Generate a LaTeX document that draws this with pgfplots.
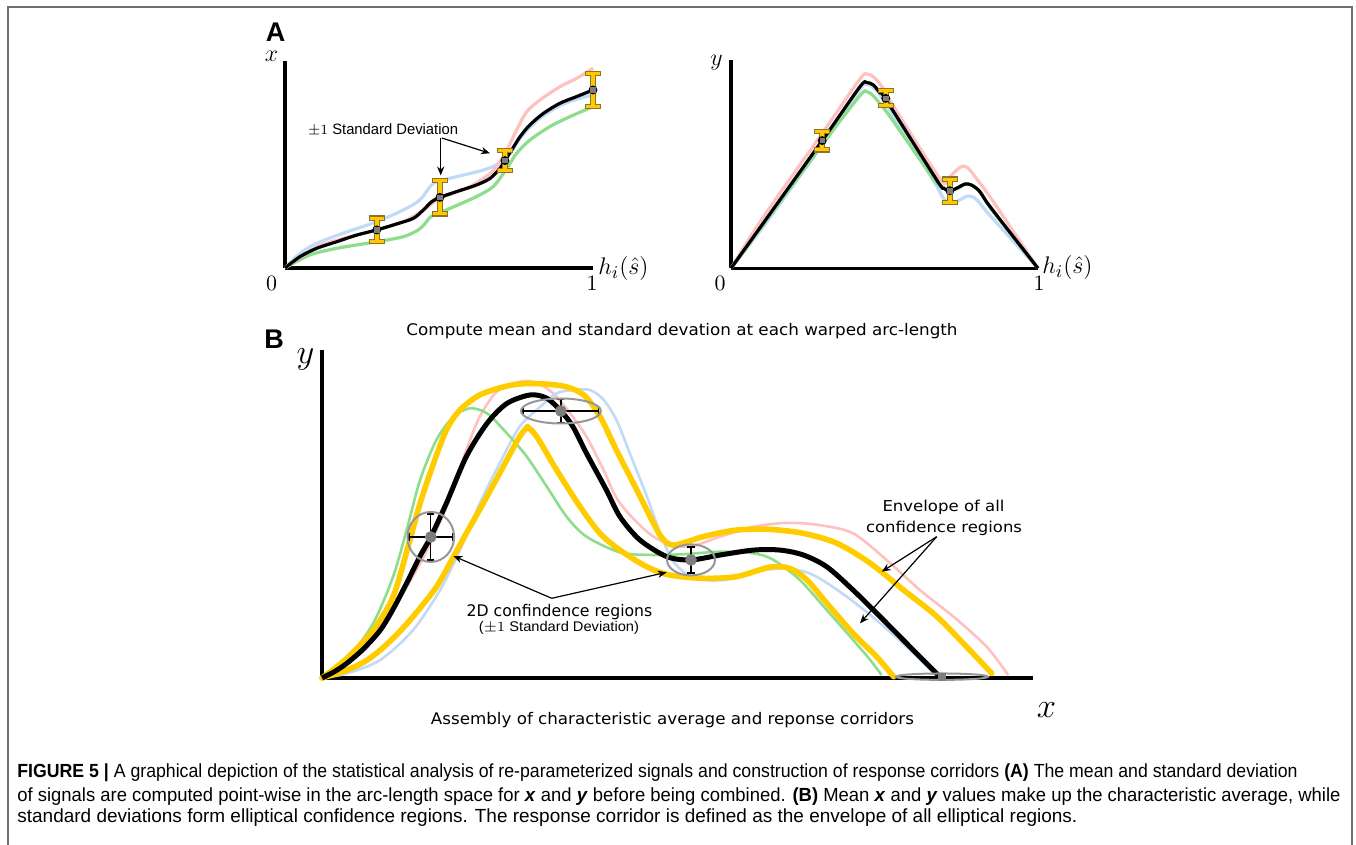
\documentclass[border=0pt]{standalone}
\usepackage{pgfplots}
\pgfplotsset{compat=1.18}
\usepackage{fontspec}
\setmainfont{Liberation Sans}
\newfontfamily\dejavu{DejaVu Sans}
\usepackage{graphicx}
\usetikzlibrary{arrows.meta}
\definecolor{gold}{RGB}{255,204,0}
\definecolor{ibeam}{RGB}{255,200,0}
\definecolor{ibeamdark}{RGB}{140,115,40}
\definecolor{lpink}{RGB}{255,192,192}
\definecolor{lblue}{RGB}{192,218,248}
\definecolor{lgreen}{RGB}{140,222,140}
\definecolor{framegray}{RGB}{110,110,110}
\definecolor{dotgray}{RGB}{125,125,125}
\definecolor{ellgray}{RGB}{150,150,150}
\newcommand{\fitw}[2]{\resizebox{#1}{\height}{#2}}
\pgfplotsset{panel/.style={scale only axis, axis x line*=bottom, axis y line*=left,
  xmin=0,xmax=1,ymin=0,ymax=1, xtick=\empty, ytick=\empty, clip=false,
  axis line style={line width=1.6pt, black}}}
\begin{document}
\begin{tikzpicture}
\useasboundingbox (0,0) rectangle (678pt,422.5pt);
\draw[framegray, line width=0.8pt] (4pt,-1pt) -- (4pt,419pt) -- (676pt,419pt) -- (676pt,-1pt);

% ---------------- Panel A left ----------------
\begin{axis}[panel, at={(142.5pt,288.5pt)}, anchor=south west, width=154pt, height=103.5pt]
\addplot[lgreen, line width=1.6pt, smooth] coordinates {(0,0) (0.081,0.063) (0.168,0.095) (0.298,0.127) (0.384,0.151) (0.433,0.184) (0.455,0.215) (0.476,0.250) (0.536,0.288) (0.622,0.345) (0.676,0.393) (0.709,0.457) (0.731,0.506) (0.752,0.554) (0.795,0.618) (0.860,0.683) (0.925,0.731) (1.0,0.779)};
\addplot[lblue, line width=1.6pt, smooth] coordinates {(0,0) (0.049,0.071) (0.103,0.119) (0.189,0.168) (0.298,0.224) (0.384,0.280) (0.438,0.329) (0.471,0.393) (0.493,0.417) (0.557,0.441) (0.644,0.473) (0.687,0.498) (0.709,0.522) (0.736,0.565) (0.763,0.625) (0.795,0.680) (0.839,0.735) (0.893,0.785) (0.947,0.815) (1.0,0.836)};
\addplot[lpink, line width=1.6pt, smooth] coordinates {(0,0) (0.103,0.101) (0.211,0.151) (0.298,0.184) (0.384,0.224) (0.449,0.280) (0.503,0.337) (0.590,0.385) (0.666,0.457) (0.709,0.538) (0.731,0.602) (0.752,0.667) (0.785,0.755) (0.828,0.812) (0.893,0.876) (0.947,0.916) (1.0,0.965)};
\addplot[black, line width=1.6pt, smooth] coordinates {(0,0) (0.049,0.055) (0.103,0.095) (0.168,0.127) (0.233,0.159) (0.298,0.184) (0.363,0.213) (0.417,0.240) (0.449,0.280) (0.476,0.320) (0.503,0.341) (0.557,0.369) (0.622,0.401) (0.666,0.433) (0.698,0.481) (0.714,0.519) (0.736,0.570) (0.763,0.634) (0.795,0.691) (0.839,0.747) (0.893,0.796) (0.947,0.828) (1.0,0.860)};
\addplot[only marks, mark=none, error bars/.cd, y dir=both, y explicit, error mark=|,
  error bar style={draw=ibeamdark, line width=3pt},
  error mark options={draw=ibeamdark, line width=2.6pt, mark size=3.9pt}]
  coordinates {(0.298,0.184) +- (0,0.057) (0.503,0.341) +- (0,0.080) (0.714,0.519) +- (0,0.047) (1.0,0.860) +- (0,0.080)};
\addplot[only marks, mark=square*, mark size=1.1pt, mark options={fill=dotgray, draw=dotgray},
  error bars/.cd, y dir=both, y explicit, error mark=|,
  error bar style={draw=ibeam, line width=1.8pt},
  error mark options={draw=ibeam, line width=1.5pt, mark size=3.4pt}]
  coordinates {(0.298,0.184) +- (0,0.057) (0.503,0.341) +- (0,0.080) (0.714,0.519) +- (0,0.047) (1.0,0.860) +- (0,0.080)};
\end{axis}

% ---------------- Panel A right ----------------
\begin{axis}[panel, at={(365.5pt,288.35pt)}, anchor=south west, width=153.5pt, height=104pt]
\addplot[lpink, line width=1.6pt, smooth] coordinates {(0,0) (0.1,0.235) (0.3,0.655) (0.42,0.91) (0.444,0.934) (0.468,0.915) (0.5,0.855) (0.529,0.78) (0.681,0.43) (0.705,0.43) (0.73,0.465) (0.751,0.489) (0.77,0.485) (0.8,0.43) (0.85,0.33) (1,0)};
\addplot[lblue, line width=1.6pt, smooth] coordinates {(0,0) (0.1,0.19) (0.3,0.6) (0.42,0.86) (0.442,0.885) (0.466,0.865) (0.5,0.8) (0.66,0.42) (0.69,0.34) (0.713,0.312) (0.74,0.325) (0.773,0.348) (0.80,0.33) (0.84,0.26) (1,0)};
\addplot[lgreen, line width=1.6pt, smooth] coordinates {(0,0) (0.3,0.6) (0.42,0.83) (0.442,0.849) (0.466,0.825) (0.518,0.729) (0.66,0.43) (0.69,0.39) (0.715,0.375) (0.74,0.385) (0.765,0.405) (0.79,0.395) (0.82,0.35) (0.85,0.28) (1,0)};
\addplot[black, line width=1.6pt, smooth] coordinates {(0,0) (0.297,0.614) (0.420,0.873) (0.442,0.893) (0.464,0.881) (0.485,0.844) (0.502,0.817) (0.670,0.425) (0.692,0.385) (0.713,0.373) (0.735,0.385) (0.762,0.405) (0.784,0.400) (0.811,0.368) (0.844,0.296) (1.0,0)};
\addplot[only marks, mark=none, error bars/.cd, y dir=both, y explicit, error mark=|,
  error bar style={draw=ibeamdark, line width=3pt},
  error mark options={draw=ibeamdark, line width=2.6pt, mark size=3.9pt}]
  coordinates {(0.297,0.614) +- (0,0.045) (0.504,0.817) +- (0,0.036) (0.713,0.373) +- (0,0.056)};
\addplot[only marks, mark=square*, mark size=1.1pt, mark options={fill=dotgray, draw=dotgray},
  error bars/.cd, y dir=both, y explicit, error mark=|,
  error bar style={draw=ibeam, line width=1.8pt},
  error mark options={draw=ibeam, line width=1.5pt, mark size=3.4pt}]
  coordinates {(0.297,0.614) +- (0,0.045) (0.504,0.817) +- (0,0.036) (0.713,0.373) +- (0,0.056)};
\end{axis}

% ---------------- Panel B ----------------
\begin{axis}[panel, at={(161pt,83.5pt)}, anchor=south west, width=355.5pt, height=164pt]
\addplot[lpink, line width=1.3pt, smooth] coordinates {(0,0) (0.058,0.095) (0.105,0.228) (0.143,0.370) (0.175,0.522) (0.203,0.695) (0.222,0.797) (0.246,0.873) (0.278,0.903) (0.302,0.900) (0.325,0.868) (0.349,0.807) (0.372,0.736) (0.396,0.634) (0.419,0.533) (0.466,0.431) (0.513,0.400) (0.560,0.431) (0.607,0.461) (0.654,0.473) (0.700,0.466) (0.747,0.441) (0.794,0.360) (0.841,0.268) (0.888,0.187) (0.935,0.095) (0.965,0.009)};
\addplot[lblue, line width=1.3pt, smooth] coordinates {(0,0) (0.035,0.014) (0.082,0.055) (0.128,0.146) (0.166,0.268) (0.194,0.390) (0.222,0.533) (0.250,0.655) (0.278,0.766) (0.307,0.827) (0.330,0.868) (0.353,0.878) (0.377,0.878) (0.396,0.848) (0.414,0.787) (0.433,0.685) (0.457,0.553) (0.475,0.445) (0.492,0.362) (0.512,0.318) (0.536,0.299) (0.570,0.300) (0.607,0.324) (0.653,0.334) (0.691,0.314) (0.738,0.248) (0.785,0.167) (0.832,0.075) (0.862,0.009)};
\addplot[lgreen, line width=1.3pt, smooth] coordinates {(0,0) (0.035,0.055) (0.072,0.167) (0.100,0.309) (0.119,0.451) (0.138,0.604) (0.161,0.726) (0.185,0.797) (0.208,0.822) (0.232,0.807) (0.260,0.746) (0.288,0.675) (0.316,0.584) (0.344,0.492) (0.372,0.431) (0.419,0.383) (0.466,0.375) (0.513,0.378) (0.560,0.385) (0.607,0.380) (0.635,0.360) (0.672,0.299) (0.710,0.207) (0.747,0.116) (0.771,0.055) (0.787,0.009)};
\addplot[gold, line width=2.8pt, smooth, line cap=round] coordinates {(0,0) (0.035,0.060) (0.072,0.146) (0.100,0.248) (0.121,0.400) (0.138,0.533) (0.157,0.655) (0.175,0.756) (0.194,0.817) (0.222,0.863) (0.260,0.890) (0.293,0.898) (0.339,0.890) (0.368,0.863) (0.391,0.797) (0.414,0.695) (0.440,0.585) (0.462,0.490) (0.478,0.428) (0.495,0.405) (0.536,0.431) (0.583,0.451) (0.630,0.453) (0.677,0.441) (0.724,0.411) (0.771,0.350) (0.818,0.268) (0.865,0.187) (0.911,0.085) (0.942,0.014)};
\addplot[gold, line width=2.8pt, smooth, line cap=round] coordinates {(0,0) (0.035,0.024) (0.060,0.050) (0.082,0.085) (0.105,0.132) (0.128,0.187) (0.161,0.278) (0.185,0.370) (0.203,0.441) (0.232,0.553) (0.260,0.665) (0.278,0.736) (0.289,0.766)};
\addplot[gold, line width=2.8pt, smooth, line cap=round] coordinates {(0.289,0.766) (0.302,0.736) (0.330,0.634) (0.363,0.522) (0.391,0.441) (0.419,0.390) (0.457,0.339) (0.489,0.314) (0.536,0.304) (0.583,0.309) (0.630,0.338) (0.658,0.334) (0.682,0.299) (0.710,0.228) (0.747,0.136) (0.780,0.065) (0.804,0.004)};
\addplot[black, line width=2.5pt, smooth] coordinates {(0,0) (0.018,0.020) (0.035,0.045) (0.058,0.088) (0.082,0.146) (0.100,0.210) (0.119,0.289) (0.138,0.372) (0.153,0.430) (0.175,0.533) (0.203,0.675) (0.232,0.776) (0.260,0.837) (0.293,0.863) (0.316,0.853) (0.336,0.814) (0.353,0.766) (0.372,0.685) (0.400,0.573) (0.419,0.492) (0.447,0.421) (0.485,0.370) (0.519,0.360) (0.560,0.375) (0.607,0.390) (0.644,0.390) (0.677,0.375) (0.710,0.339) (0.747,0.268) (0.785,0.187) (0.822,0.106) (0.850,0.045) (0.869,0.004)};
% confidence ellipses
\addplot[only marks, mark=o, mark size=1pt, mark options={xscale=11.65, yscale=12.5, draw=ellgray, line width=1pt}] coordinates {(0.153,0.430)};
\addplot[only marks, mark=o, mark size=1pt, mark options={xscale=20, yscale=6.25, draw=ellgray, line width=1pt}] coordinates {(0.336,0.814)};
\addplot[only marks, mark=o, mark size=1pt, mark options={xscale=12, yscale=7.75, draw=ellgray, line width=1pt}] coordinates {(0.519,0.360)};
\addplot[only marks, mark=o, mark size=1pt, mark options={xscale=23, yscale=1.6, draw=ellgray, line width=1pt}] coordinates {(0.872,0.004)};
\addplot[only marks, mark=*, mark size=2.7pt, mark options={fill=dotgray, draw=dotgray},
  error bars/.cd, x dir=both, x explicit, y dir=both, y explicit, error mark=|,
  error bar style={draw=black, line width=0.7pt},
  error mark options={draw=black, line width=0.9pt, mark size=1.8pt}]
  coordinates {(0.153,0.430) +- (0.031,0.071) (0.336,0.814) +- (0.053,0.036)};
\addplot[only marks, mark=*, mark size=2.7pt, mark options={fill=dotgray, draw=dotgray},
  error bars/.cd, y dir=both, y explicit, error mark=|,
  error bar style={draw=black, line width=0.7pt},
  error mark options={draw=black, line width=0.9pt, mark size=1.8pt}]
  coordinates {(0.519,0.360) +- (0,0.040)};
\addplot[only marks, mark=square*, mark size=1.8pt, mark options={fill=dotgray, draw=dotgray}] coordinates {(0.872,0.004)};
\end{axis}

% ---------------- Labels ----------------
\node[font=\fontsize{13.5}{15}\selectfont\bfseries] at (137.75pt,406.25pt) {A};
\node[font=\fontsize{13.5}{15}\selectfont\bfseries] at (137pt,253pt) {B};
\node at (135.75pt,394.5pt) {\fontsize{12}{14}\selectfont$x$};
\node at (135.75pt,281pt) {\fontsize{11}{13}\selectfont$0$};
\node at (296pt,281pt) {\fontsize{11}{13}\selectfont$1$};
\node at (311.75pt,288.25pt) {\fontsize{13}{15}\selectfont$h_i(\hat{s})$};
\node at (358.25pt,391pt) {\fontsize{12}{14}\selectfont$y$};
\node at (360pt,281pt) {\fontsize{11}{13}\selectfont$0$};
\node at (519.5pt,281pt) {\fontsize{11}{13}\selectfont$1$};
\node at (533.75pt,288.5pt) {\fontsize{13}{15}\selectfont$h_i(\hat{s})$};
\node at (152.75pt,243pt) {\fontsize{16}{18}\selectfont$y$};
\node at (523.25pt,67.5pt) {\fontsize{16}{18}\selectfont$x$};

\node at (191.5pt,357.5pt) {\fitw{75pt}{\fontsize{7.5}{9}\selectfont$\pm1$ Standard Deviation}};
\draw[-{Stealth[length=4.5pt,width=3.6pt]}, line width=0.6pt] (220.35pt,353.5pt) -- (220.35pt,334.75pt);
\draw[-{Stealth[length=4.5pt,width=3.6pt]}, line width=0.6pt] (220.85pt,353.5pt) -- (245pt,345.85pt);

\node at (341pt,257pt) {\fitw{275.5pt}{\dejavu\fontsize{8}{10}\selectfont Compute mean and standard devation at each warped arc-length}};
\node at (336.25pt,62.5pt) {\fitw{241.5pt}{\dejavu\fontsize{8}{10}\selectfont Assembly of characteristic average and reponse corridors}};

\node at (279.75pt,116.5pt) {\fitw{92.8pt}{\dejavu\fontsize{8}{10}\selectfont 2D confindence regions}};
\node at (279.5pt,108.5pt) {\fitw{80pt}{\fontsize{7}{8.5}\selectfont($\pm1$ Standard Deviation)}};
\draw[-{Stealth[length=4.5pt,width=3.6pt]}, line width=0.6pt] (275.85pt,123.35pt) -- (226.65pt,144.5pt);
\draw[-{Stealth[length=4.5pt,width=3.6pt]}, line width=0.6pt] (275.85pt,123.35pt) -- (333.35pt,136.35pt);

\node at (471.75pt,169pt) {\fitw{61pt}{\dejavu\fontsize{7.5}{9}\selectfont Envelope of all}};
\node at (472pt,158.5pt) {\fitw{78pt}{\dejavu\fontsize{7.5}{9}\selectfont confidence regions}};
\draw[-{Stealth[length=4.5pt,width=3.6pt]}, line width=0.6pt] (468.35pt,154.15pt) -- (440.85pt,136.65pt);
\draw[-{Stealth[length=4.5pt,width=3.6pt]}, line width=0.6pt] (468.35pt,154.15pt) -- (430pt,110.85pt);

% ---------------- Caption ----------------
\node[anchor=base west, inner sep=0] at (8.5pt,33.5pt) {\fitw{640pt}{\fontsize{9.5}{11}\selectfont\textbf{FIGURE 5 |} A graphical depiction of the statistical analysis of re-parameterized signals and construction of response corridors \textbf{(A)} The mean and standard deviation}};
\node[anchor=base west, inner sep=0] at (8.5pt,21.5pt) {\fitw{661.5pt}{\fontsize{9.5}{11}\selectfont of signals are computed point-wise in the arc-length space for \textbf{\textit{x}} and \textbf{\textit{y}} before being combined. \textbf{(B)} Mean \textbf{\textit{x}} and \textbf{\textit{y}} values make up the characteristic average, while}};
\node[anchor=base west, inner sep=0] at (8.5pt,11pt) {\fitw{530pt}{\fontsize{9.5}{11}\selectfont standard deviations form elliptical confidence regions. The response corridor is defined as the envelope of all elliptical regions.}};
\end{tikzpicture}
\end{document}
